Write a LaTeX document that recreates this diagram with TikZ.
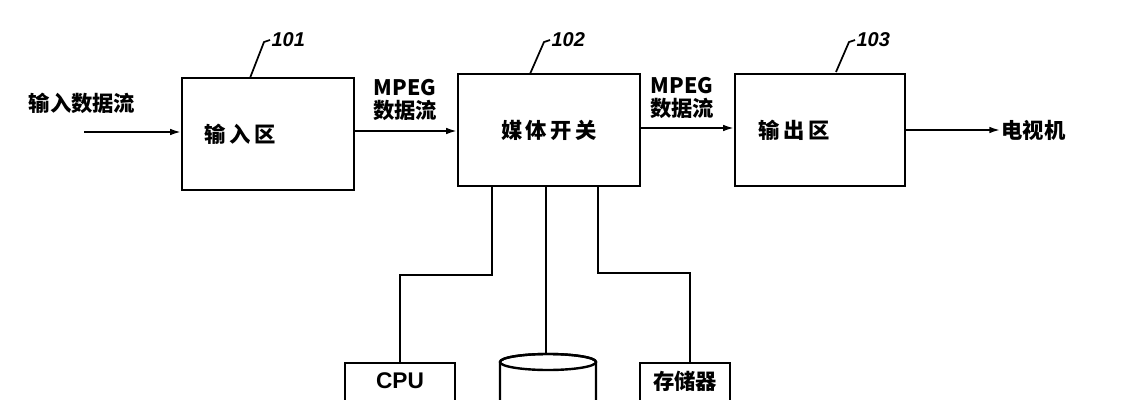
\documentclass[tikz,border=0pt]{standalone}
\usepackage{fontspec}
\setmainfont{Liberation Sans}
\newfontfamily\cjk{Noto Sans CJK SC}
\usetikzlibrary{arrows.meta,positioning,shapes.geometric}
\tikzset{
  blk/.style={draw,line width=1.8pt,minimum width=172pt*0.75,minimum height=112pt*0.75,inner sep=0pt},
  flow/.style={-{Latex[length=8pt,width=5pt]},line width=1.3pt},
  bus/.style={line width=1.3pt},
  lbl/.style={font=\cjk\bfseries\fontsize{16}{18}\selectfont,inner sep=1pt},
  tag/.style={font=\bfseries\itshape\fontsize{15}{15}\selectfont,inner sep=1pt}
}
\begin{document}
\begin{tikzpicture}[x=0.75pt,y=-0.75pt]
\useasboundingbox[clip] (0,0) rectangle (1122,400);
% main chain
\node[blk] (in) at (268,134) {};
\node[lbl,anchor=west] at (203,134) {输\,入\,区};
\node[blk,minimum width=182pt*0.75] (sw) at (549,130) {};
\node[lbl] at (549,130) {媒\,体\,开\,关};
\node[blk,minimum width=170pt*0.75] (out) at (820,130) {};
\node[lbl,anchor=west] at (757,130) {输\,出\,区};
\coordinate (src) at (84,132);
\node[lbl,anchor=west] (tv) at (1000,130) {电视机};
\node[lbl] (srct) at (82,103) {输入数据流};
\draw[flow] (src) -- (src -| in.west);
\draw[flow] (in.east |- 0,131) -- (sw.west |- 0,131);
\draw[flow] (sw.east |- 0,128) -- (out.west |- 0,128);
\draw[flow] (out.east) -- (tv.west);
\node[lbl,align=center,font=\cjk\bfseries\fontsize{16}{17}\selectfont] (m1) at (405,100) {MPEG\\数据流};
\node[lbl,align=center,font=\cjk\bfseries\fontsize{16}{17}\selectfont] (m2) at (682,98) {MPEG\\数据流};
% reference tags
\node[tag,anchor=west] (t1) at (270,40) {101};
\node[tag,anchor=west] (t2) at (550,40) {102};
\node[tag,anchor=west] (t3) at (855,40) {103};
\draw[line width=1.3pt] (250,78) -- (264,42) -- (t1.west);
\draw[line width=1.3pt] (530,74) -- (544,42) -- (t2.west);
\draw[line width=1.3pt] (836,72) -- (849,42) -- (t3.west);
% peripherals
\node[draw,line width=1.8pt,minimum width=110pt*0.75,minimum height=50pt*0.75,anchor=north] (cpu) at (400,362) {};
\node[font=\bfseries\fontsize{17}{17}\selectfont] at (400,381) {CPU};
\node[draw,line width=1.8pt,minimum width=90pt*0.75,minimum height=50pt*0.75,anchor=north] (mem) at (685,362) {};
\node[lbl] at (685,381) {存储器};
\draw[line width=1.8pt] (500,420) -- (500,362) arc[start angle=180,end angle=360,x radius=48,y radius=8]
  -- (596,420);
\draw[line width=1.8pt] (548,362) ellipse[x radius=48,y radius=8];
\draw[bus] (492,186) |- (400,275) -- (cpu.north);
\draw[bus] (546,186) -- (546,354);
\draw[bus] (598,186) |- (690,273) -- (mem.north -| 690,0);
\end{tikzpicture}
\end{document}
